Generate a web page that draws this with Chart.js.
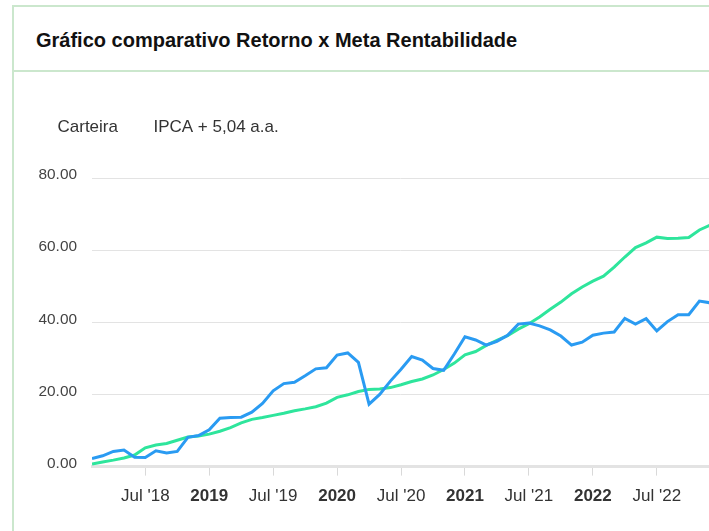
<!DOCTYPE html>
<html>
<head>
<meta charset="utf-8">
<script src="https://cdn.jsdelivr.net/npm/chart.js@4.4.0/dist/chart.umd.min.js"></script>
<style>
  body { margin: 0; background: #fff; overflow: hidden; font-family: "Liberation Sans", Arial, sans-serif; }
  .card { position: absolute; left: 12px; top: 5px; width: 760px; height: 560px; border: 2px solid #cbe7cd; border-right: none; box-sizing: border-box; }
  .card-header { height: 65px; border-bottom: 2px solid #cbe7cd; box-sizing: border-box; }
  .card-header h5 { margin: 0; padding: 21px 0 0 22px; font-size: 20px; font-weight: bold; color: #111; line-height: 24px; }
  #grafico { position: absolute; left: 14px; top: 72px; }
</style>
</head>
<body>
<div class="card">
  <div class="card-header"><h5>Gráfico comparativo Retorno x Meta Rentabilidade</h5></div>
</div>
<canvas id="grafico" width="695" height="459"></canvas>
<script>
  // meses: fev/18 ... dez/22
  const meses = ['fev/18','mar/18','abr/18','mai/18','jun/18','jul/18','ago/18','set/18','out/18','nov/18','dez/18',
    'jan/19','fev/19','mar/19','abr/19','mai/19','jun/19','jul/19','ago/19','set/19','out/19','nov/19','dez/19',
    'jan/20','fev/20','mar/20','abr/20','mai/20','jun/20','jul/20','ago/20','set/20','out/20','nov/20','dez/20',
    'jan/21','fev/21','mar/21','abr/21','mai/21','jun/21','jul/21','ago/21','set/21','out/21','nov/21','dez/21',
    'jan/22','fev/22','mar/22','abr/22','mai/22','jun/22','jul/22','ago/22','set/22','out/22','nov/22','dez/22'];

  const carteira = [2.2, 3.0, 4.2, 4.6, 2.6, 2.5, 4.4, 3.8, 4.2, 8.1,
    8.6, 10.2, 13.4, 13.6, 13.7, 15.1, 17.5, 21.0, 23.0, 23.4,
    25.2, 27.1, 27.4, 30.9, 31.5, 28.9, 17.3, 20.0, 23.7, 27.0,
    30.5, 29.5, 27.2, 26.7, 31.2, 36.0, 35.1, 33.7, 34.7, 36.4,
    39.5, 39.8, 39.0, 37.9, 36.2, 33.7, 34.5, 36.4, 37.0, 37.3,
    41.1, 39.5, 41.0, 37.6, 40.2, 42.1, 42.1, 45.9, 45.4];

  const ipca = [0.7, 1.3, 1.8, 2.4, 3.2, 5.2, 6.0, 6.4, 7.3, 8.2,
    8.5, 9.0, 9.8, 10.8, 12.1, 13.1, 13.6, 14.2, 14.8, 15.5,
    16.0, 16.6, 17.6, 19.2, 19.9, 20.8, 21.4, 21.5, 21.9, 22.7,
    23.6, 24.3, 25.4, 26.9, 28.7, 31.0, 31.9, 33.6, 35.0, 36.3,
    38.1, 39.6, 41.5, 43.6, 45.6, 47.9, 49.8, 51.4, 52.8, 55.3,
    58.1, 60.7, 62.0, 63.6, 63.2, 63.3, 63.5, 65.6, 66.9];

  // posicoes dos ticks (indice do mes) e textos
  const tickMeses = ['jul/18','jan/19','jul/19','jan/20','jul/20','jan/21','jul/21','jan/22','jul/22'];
  const tickLabels = ["Jul '18", '2019', "Jul '19", '2020', "Jul '20", '2021', "Jul '21", '2022', "Jul '22"];
  const yTicks = [0, 20, 40, 60, 80];

  const tickPos = tickMeses.map(m => meses.indexOf(m));
  const pontos = arr => arr.map((v, i) => ({ x: i, y: v }));

  const espacoLegenda = {
    id: 'espacoLegenda',
    beforeInit(chart) {
      const fit = chart.legend.fit;
      chart.legend.fit = function () {
        fit.bind(chart.legend)();
        this.height += 32;
      };
    }
  };

  new Chart(document.getElementById('grafico'), {
    type: 'line',
    data: {
      datasets: [{
        label: 'Carteira',
        data: pontos(carteira),
        borderColor: '#2a9bf2',
        backgroundColor: '#2a9bf2',
        borderWidth: 3,
        pointRadius: 0,
        tension: 0
      }, {
        label: 'IPCA + 5,04 a.a.',
        data: pontos(ipca),
        borderColor: '#2ee59c',
        backgroundColor: '#2ee59c',
        borderWidth: 3,
        pointRadius: 0,
        tension: 0
      }]
    },
    options: {
      responsive: false,
      animation: false,
      layout: { padding: { left: 8, top: 32, right: 0, bottom: 13 } },
      plugins: {
        tooltip: { enabled: false },
        legend: {
          align: 'start',
          labels: {
            boxWidth: 12,
            padding: 15,
            color: '#333',
            font: { family: '"Liberation Sans", Arial', size: 17 },
            generateLabels(chart) {
              const items = Chart.defaults.plugins.legend.labels.generateLabels(chart);
              items.forEach(it => { it.fillStyle = 'transparent'; it.strokeStyle = 'transparent'; it.lineWidth = 0; });
              return items;
            }
          }
        }
      },
      scales: {
        x: {
          type: 'linear',
          min: 0,
          max: 57.9,
          afterBuildTicks(scale) {
            scale.ticks = tickPos.map(v => ({ value: v }));
          },
          grid: { drawOnChartArea: false, color: '#d9d9d9', tickLength: 9 },
          border: { color: '#e3e3e3', width: 3 },
          ticks: {
            autoSkip: false,
            maxRotation: 0,
            padding: 11,
            color: '#333',
            font: ctx => ({
              family: '"Liberation Sans", Arial',
              size: 17,
              weight: ctx.tick && /^\d{4}$/.test(tickLabels[tickPos.indexOf(ctx.tick.value)] || '') ? 'bold' : 'normal'
            }),
            callback: v => tickLabels[tickPos.indexOf(v)]
          }
        },
        y: {
          min: 0,
          max: 80,
          afterBuildTicks(scale) {
            scale.ticks = yTicks.map(v => ({ value: v }));
          },
          afterFit(scale) { scale.width = 70; },
          grid: { color: '#e3e3e3', drawTicks: false },
          border: { display: false },
          ticks: {
            padding: 15,
            labelOffset: -3,
            color: '#444',
            font: { family: '"Liberation Sans", Arial', size: 15.4 },
            callback: v => v.toFixed(2)
          }
        }
      }
    },
    plugins: [espacoLegenda]
  });
</script>
</body>
</html>
